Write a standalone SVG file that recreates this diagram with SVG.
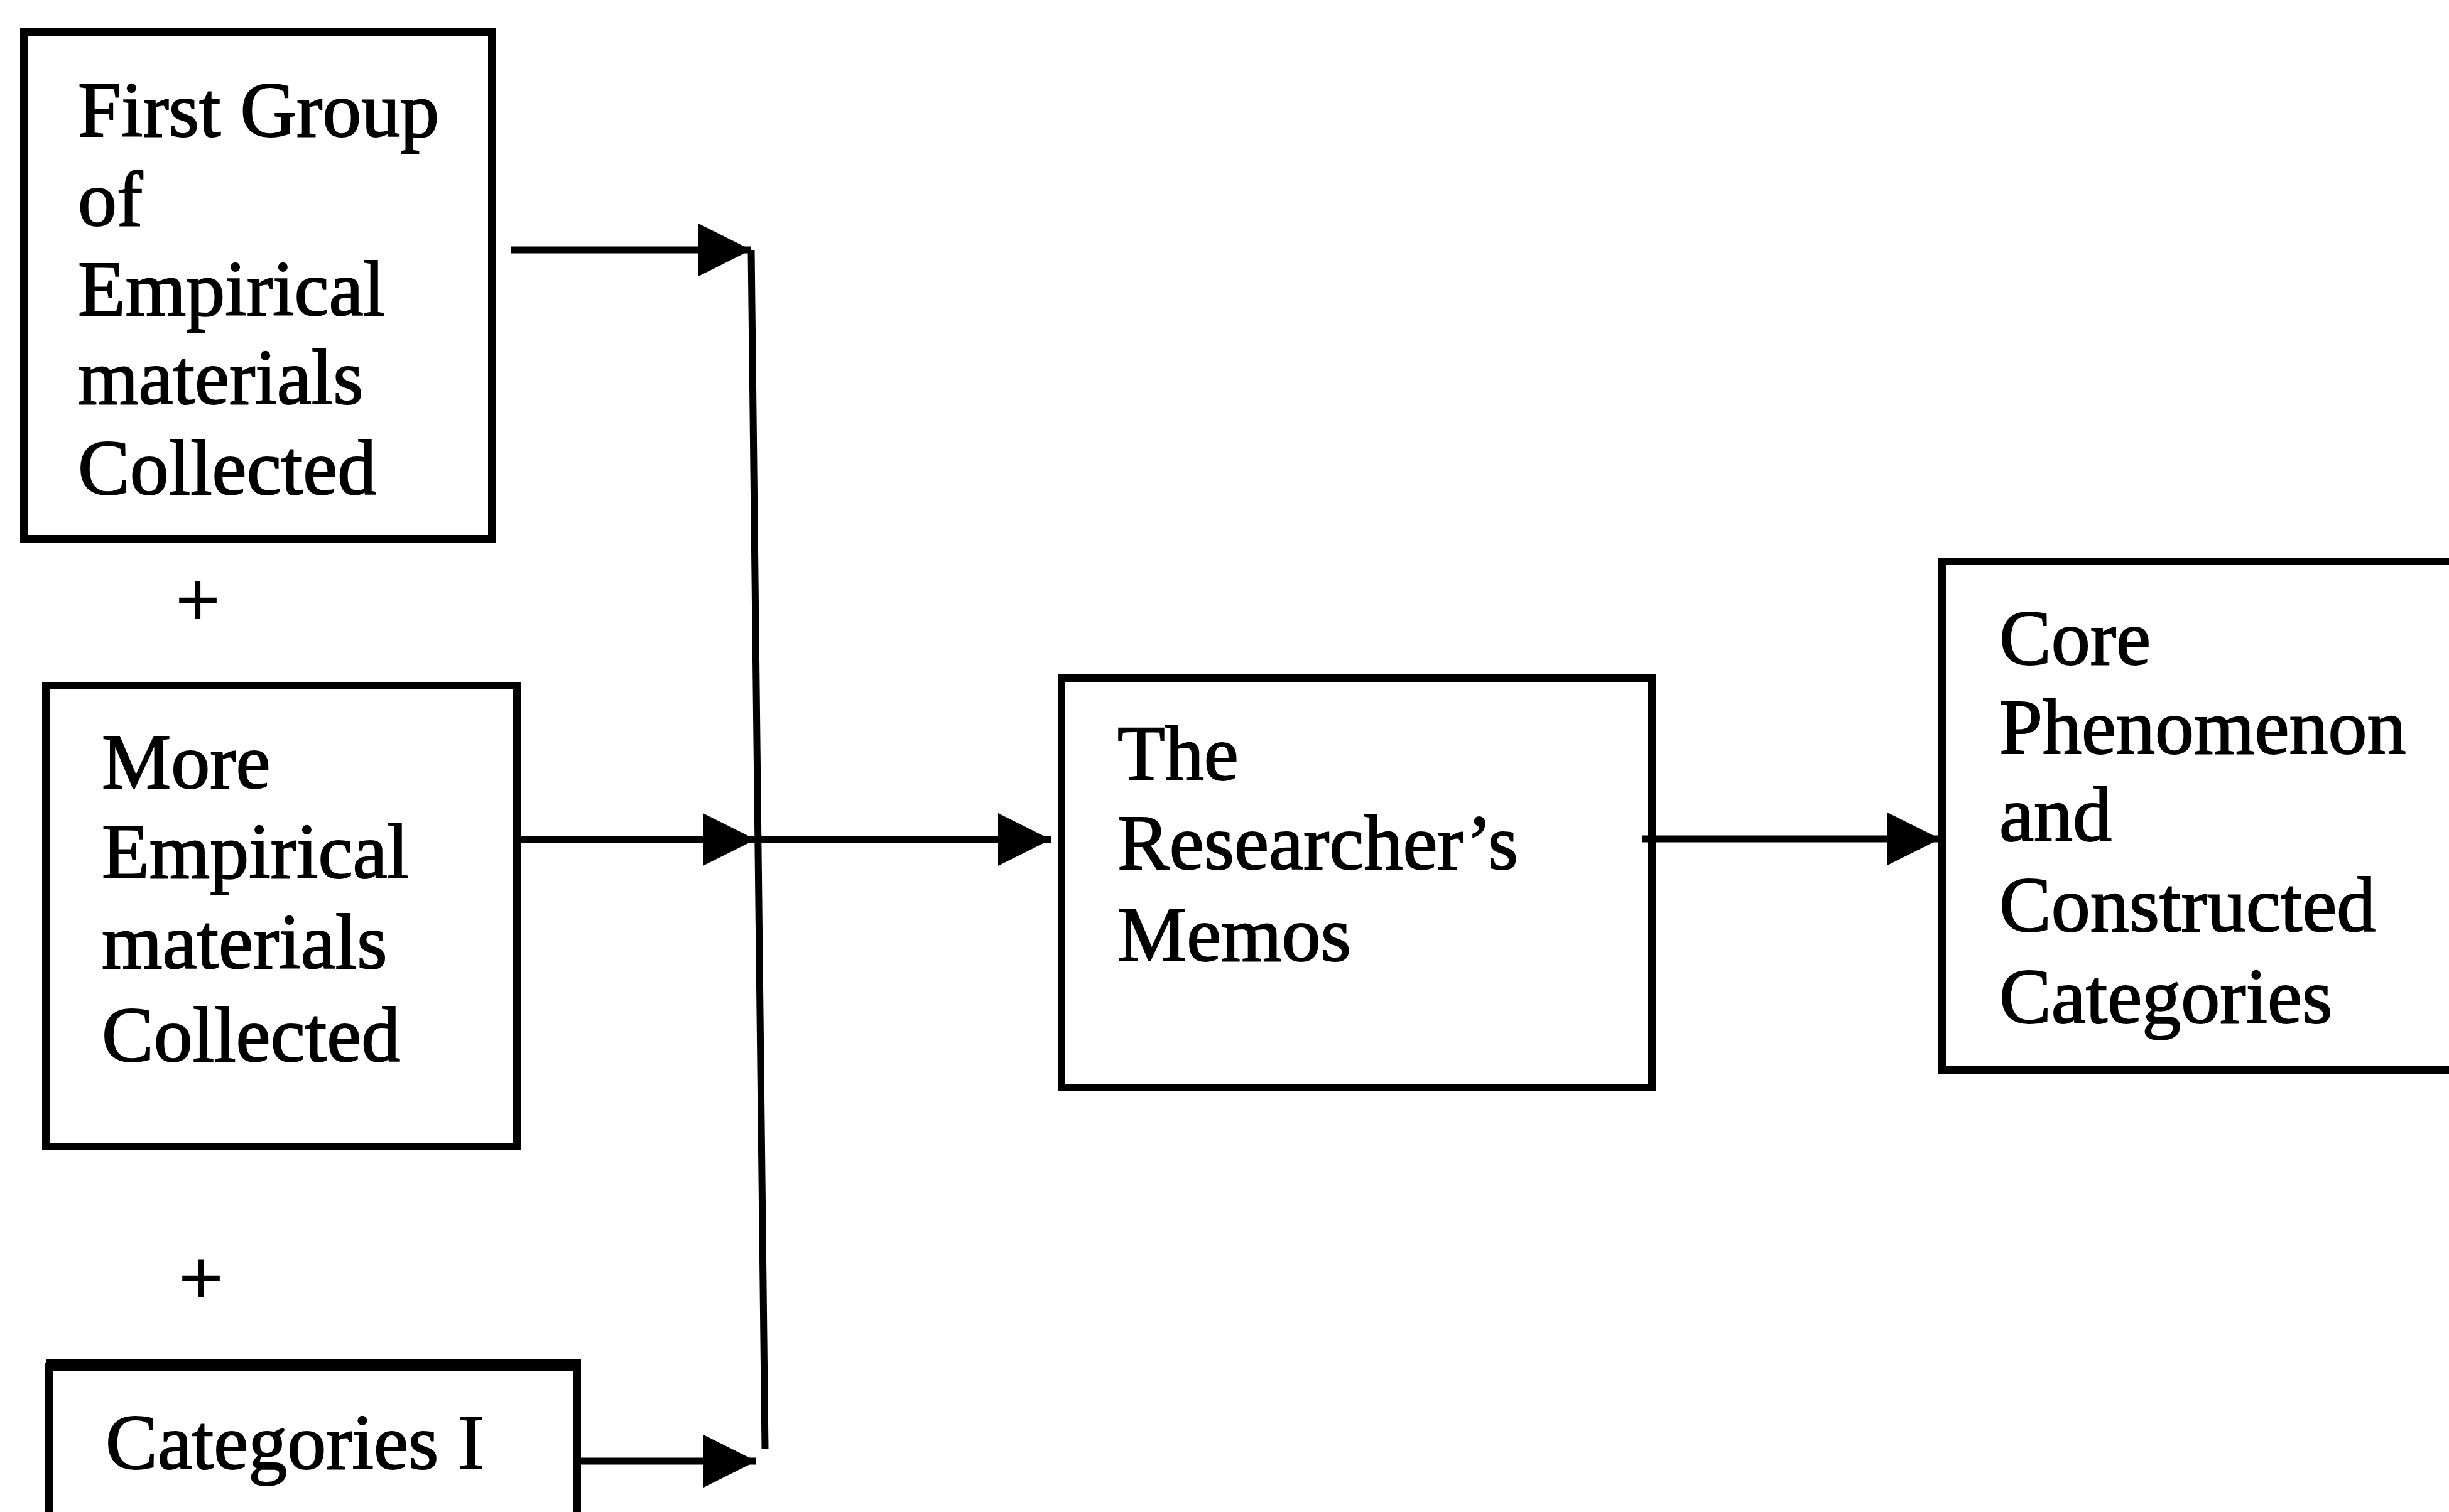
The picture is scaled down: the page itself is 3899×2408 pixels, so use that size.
<svg xmlns="http://www.w3.org/2000/svg" width="3899" height="2408" viewBox="0 0 3899 2408">
<style>
.box{fill:#fff;stroke:#000;stroke-width:12}
.lbl{font-family:"Liberation Serif","Times New Roman",serif;font-size:124px;fill:#000;stroke:#000;stroke-width:2}
.con{stroke:#000;stroke-width:11;fill:none}
</style>
<defs>
<marker id="ah" markerUnits="userSpaceOnUse" markerWidth="86" markerHeight="86" refX="84" refY="42" orient="auto" viewBox="0 0 86 86">
<path d="M0,0 L84,42 L0,84 Z" fill="#000"/>
</marker>
</defs>
<rect width="3899" height="2408" fill="#fff"/>
<g id="node-first-group">
<rect class="box" x="38" y="51" width="745" height="807"/>
<text class="lbl"><tspan x="124" y="217">First Group</tspan><tspan x="124" y="359">of</tspan><tspan x="124" y="502">Empirical</tspan><tspan x="124" y="643">materials</tspan><tspan x="124" y="787">Collected</tspan></text>
</g>
<g id="plus-1"><text class="lbl" x="315" y="997" text-anchor="middle">+</text></g>
<g id="node-more-empirical">
<rect class="box" x="73" y="1092" width="750" height="734"/>
<text class="lbl"><tspan x="162" y="1255">More</tspan><tspan x="162" y="1398">Empirical</tspan><tspan x="162" y="1542">materials</tspan><tspan x="162" y="1690">Collected</tspan></text>
</g>
<g id="plus-2"><text class="lbl" x="320" y="2077" text-anchor="middle">+</text></g>
<g id="node-categories-i">
<rect class="box" x="78" y="2177" width="841" height="300"/>
<line x1="73" y1="2173" x2="925" y2="2173" stroke="#000" stroke-width="16"/>
<text class="lbl" x="168" y="2339">Categories I</text>
</g>
<g id="node-memos">
<rect class="box" x="1690" y="1080" width="940" height="652"/>
<text class="lbl"><tspan x="1779" y="1242">The</tspan><tspan x="1779" y="1384">Researcher’s</tspan><tspan x="1779" y="1530">Memos</tspan></text>
</g>
<g id="node-core">
<rect class="box" x="3092" y="894" width="900" height="810"/>
<text class="lbl"><tspan x="3183" y="1058">Core</tspan><tspan x="3183" y="1200">Phenomenon</tspan><tspan x="3183" y="1339">and</tspan><tspan x="3183" y="1483">Constructed</tspan><tspan x="3183" y="1629">Categories</tspan></text>
</g>
<g id="connectors">
<line class="con" x1="1196" y1="398" x2="1218" y2="2308"/>
<line class="con" x1="813" y1="398" x2="1196" y2="398" marker-end="url(#ah)"/>
<line class="con" x1="829" y1="1337" x2="1203" y2="1337" marker-end="url(#ah)"/>
<line class="con" x1="1206" y1="1337" x2="1673" y2="1337" marker-end="url(#ah)"/>
<line class="con" x1="925" y1="2327" x2="1204" y2="2327" marker-end="url(#ah)"/>
<line class="con" x1="2614" y1="1336" x2="3089" y2="1336" marker-end="url(#ah)"/>
</g>
</svg>
